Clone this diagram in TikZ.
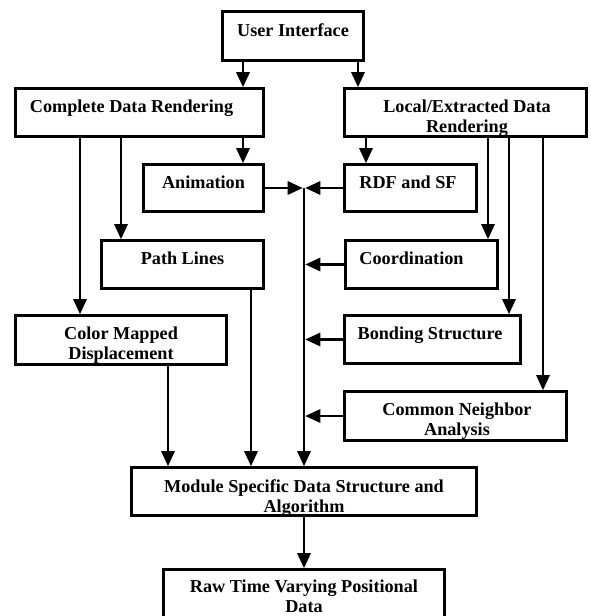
\documentclass[tikz,border=0pt]{standalone}
\usepackage{fontspec}
\setmainfont{Liberation Serif}
\usetikzlibrary{arrows.meta}
\begin{document}
\begin{tikzpicture}[x=1pt,y=-1pt,
  box/.style={draw, line width=2.9pt, rectangle, inner sep=0pt},
  lbl/.style={font=\fontsize{18.2}{20}\selectfont\bfseries, align=center, inner sep=0pt, anchor=north},
  arr/.style={line width=2.8pt, -{Triangle[width=14pt,length=15pt,line width=0pt]}},
  tobus/.style={arr, shorten >=1.4pt}]
\clip (0,0) rectangle (590,616);
% boxes
\node[box, minimum width=141, minimum height=49] (ui) at (293,36) {};
\node[box, minimum width=248, minimum height=48] (cdr) at (139.5,112.5) {};
\node[box, minimum width=242, minimum height=48] (ledr) at (465.5,112.5) {};
\node[box, minimum width=120, minimum height=47] (anim) at (203.5,188) {};
\node[box, minimum width=132, minimum height=47] (rdf) at (410.5,188) {};
\node[box, minimum width=162, minimum height=48] (path) at (182.5,264.5) {};
\node[box, minimum width=152, minimum height=48] (coord) at (421.5,264.5) {};
\node[box, minimum width=211, minimum height=49] (cmd) at (121,340) {};
\node[box, minimum width=176, minimum height=48] (bond) at (432.5,339.5) {};
\node[box, minimum width=222, minimum height=49] (cna) at (455.5,416) {};
\node[box, minimum width=345, minimum height=48] (mod) at (304,491.5) {};
\node[box, minimum width=281, minimum height=60] (raw) at (304,599.5) {};
% labels
\node[lbl] (uiT) at ([yshift=-13pt]ui.north) {User Interface};
\node[lbl] (cdrT) at ([xshift=-8pt,yshift=-13pt]cdr.north) {Complete Data Rendering};
\node[lbl] (ledrT) at ([xshift=1.5pt,yshift=-13pt]ledr.north) {Local/Extracted Data\\Rendering};
\node[lbl] (animT) at ([yshift=-13pt]anim.north) {Animation};
\node[lbl] (rdfT) at ([xshift=-2.5pt,yshift=-13pt]rdf.north) {RDF and SF};
\node[lbl] (pathT) at ([yshift=-13pt]path.north) {Path Lines};
\node[lbl] (coordT) at ([xshift=-10pt,yshift=-13pt]coord.north) {Coordination};
\node[lbl] (cmdT) at ([yshift=-13pt]cmd.north) {Color Mapped\\Displacement};
\node[lbl] (bondT) at ([xshift=-2.5pt,yshift=-13pt]bond.north) {Bonding Structure};
\node[lbl] (cnaT) at ([xshift=1.5pt,yshift=-13pt]cna.north) {Common Neighbor\\Analysis};
\node[lbl] (modT) at ([yshift=-13pt]mod.north) {Module Specific Data Structure and\\Algorithm};
\node[lbl] (rawT) at ([yshift=-12pt]raw.north) {Raw Time Varying Positional\\Data};
% column coordinates
\coordinate (xa) at (243,0);
\coordinate (xb) at (358,0);
\coordinate (xc) at (366,0);
\coordinate (xd) at (80,0);
\coordinate (xe) at (121,0);
\coordinate (xf) at (488,0);
\coordinate (xg) at (509,0);
\coordinate (xh) at (543,0);
\coordinate (xi) at (168,0);
\coordinate (xj) at (251,0);
\coordinate (bus) at (304,188);
% connectors
\draw[arr] (ui.south -| xa) -- (cdr.north -| xa);
\draw[arr] (ui.south -| xb) -- (ledr.north -| xb);
\draw[arr] (cdr.south -| xa) -- (anim.north -| xa);
\draw[arr] (ledr.south -| xc) -- (rdf.north -| xc);
\draw[arr] (cdr.south -| xd) -- (cmd.north -| xd);
\draw[arr] (cdr.south -| xe) -- (path.north -| xe);
\draw[arr] (ledr.south -| xf) -- (coord.north -| xf);
\draw[arr] (ledr.south -| xg) -- (bond.north -| xg);
\draw[arr] (ledr.south -| xh) -- (cna.north -| xh);
\draw[arr] (cmd.south -| xi) -- (mod.north -| xi);
\draw[arr] (path.south -| xj) -- (mod.north -| xj);
\draw[arr] (bus) -- (mod.north -| bus);
\draw[arr] (mod.south) -- (raw.north);
\draw[tobus] (anim.east) -- (bus);
\draw[tobus] (rdf.west) -- (bus);
\draw[tobus] (coord.west) -- (coord.west -| bus);
\draw[tobus] (bond.west) -- (bond.west -| bus);
\draw[tobus] (cna.west) -- (cna.west -| bus);
\end{tikzpicture}
\end{document}
